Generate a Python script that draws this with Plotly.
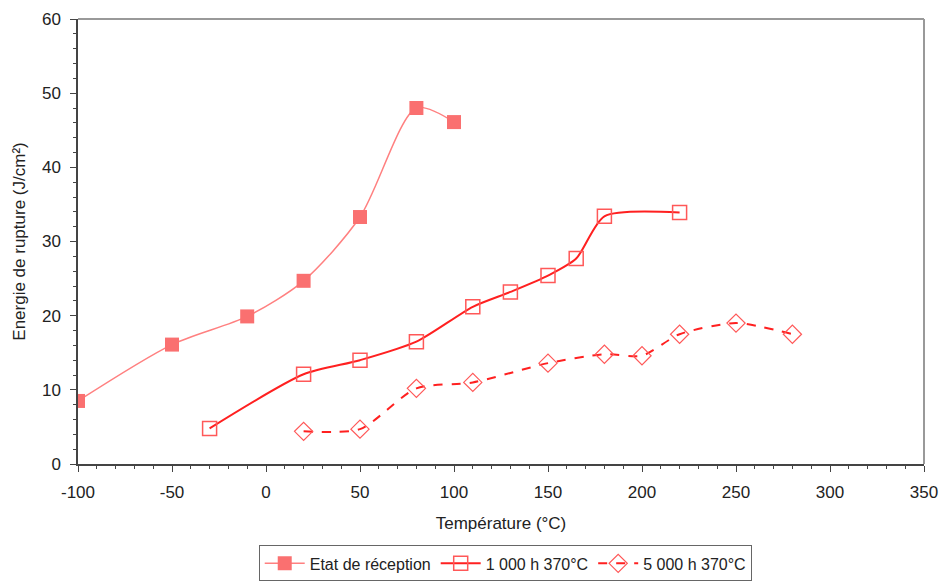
import plotly.graph_objects as go

# Data
temp_recept = [-100, -50, -10, 20, 50, 80, 100]
e_recept = [8.5, 16.1, 19.9, 24.7, 33.3, 48.0, 46.1]

temp_1000 = [-30, 20, 50, 80, 110, 130, 150, 165, 180, 220]
e_1000 = [4.8, 12.1, 14.0, 16.5, 21.2, 23.2, 25.4, 27.7, 33.4, 33.9]

temp_5000 = [20, 50, 80, 110, 150, 180, 200, 220, 250, 280]
e_5000 = [4.4, 4.7, 10.2, 11.0, 13.6, 14.8, 14.6, 17.5, 19.0, 17.5]

series_names = ["Etat de réception", "1 000 h 370°C", "5 000 h 370°C"]
x_ticks = [-100, -50, 0, 50, 100, 150, 200, 250, 300, 350]
x_tick_labels = ["-100", "-50", "0", "50", "100", "150", "200", "250", "300", "350"]
y_ticks = [0, 10, 20, 30, 40, 50, 60]

fig = go.Figure()
fig.add_trace(go.Scatter(
    x=temp_recept, y=e_recept, name=series_names[0],
    mode="lines+markers", line=dict(color="#FF8080", width=1.5, shape="spline", smoothing=0.8),
    marker=dict(symbol="square", size=14, color="#FA7070", line=dict(color="#FA7070", width=0))))
fig.add_trace(go.Scatter(
    x=temp_1000, y=e_1000, name=series_names[1],
    mode="lines+markers", line=dict(color="#FF2020", width=2, shape="spline", smoothing=0.7),
    marker=dict(symbol="square-open", size=14, color="#FF5858", line=dict(width=1.5))))
fig.add_trace(go.Scatter(
    x=temp_5000, y=e_5000, name=series_names[2],
    mode="lines+markers", line=dict(color="#FF2020", width=2, dash="dash", shape="spline", smoothing=0.7),
    marker=dict(symbol="diamond-open", size=14, color="#FF5858", line=dict(width=1.2))))

axis_font = dict(family="Liberation Sans, Arial, sans-serif", size=17, color="#222")

fig.update_layout(
    width=943, height=582,
    margin=dict(l=78, r=19, t=19, b=118, autoexpand=False),
    paper_bgcolor="white", plot_bgcolor="white",
    font=axis_font,
    showlegend=True,
    legend=dict(orientation="h", x=0.505, xanchor="center", y=-0.183, yanchor="top",
                bordercolor="#666", borderwidth=1, font=dict(size=16, color="#222"),
                itemwidth=40, tracegroupgap=0),
    xaxis=dict(range=[-100, 350], tickvals=x_ticks, ticktext=x_tick_labels,
               showgrid=False, zeroline=False, automargin=False,
               showline=True, linecolor="#444", linewidth=1.5,
               ticks="outside", ticklen=6, tickcolor="#444", ticklabelstandoff=6,
               minor=dict(dtick=10, ticks="outside", ticklen=3, tickcolor="#444"),
               title=dict(text="Température (°C)", font=dict(size=17), standoff=16)),
    yaxis=dict(range=[0, 60], tickvals=y_ticks, showgrid=False, zeroline=False, automargin=False,
               showline=True, linecolor="#444", linewidth=1.5,
               ticks="outside", ticklen=6, tickcolor="#444", ticklabelstandoff=6,
               minor=dict(dtick=2, ticks="outside", ticklen=3, tickcolor="#444"),
               title=dict(text="Energie de rupture (J/cm²)", font=dict(size=17), standoff=12)),
    shapes=[
        dict(type="line", xref="paper", yref="paper", x0=0, x1=1, y0=1, y1=1,
             line=dict(color="#999", width=2)),
        dict(type="line", xref="paper", yref="paper", x0=1, x1=1, y0=0, y1=1,
             line=dict(color="#999", width=2)),
    ],
)

fig.write_html("out.html", config={"displayModeBar": False},
               post_script="document.body.style.margin='0';")
